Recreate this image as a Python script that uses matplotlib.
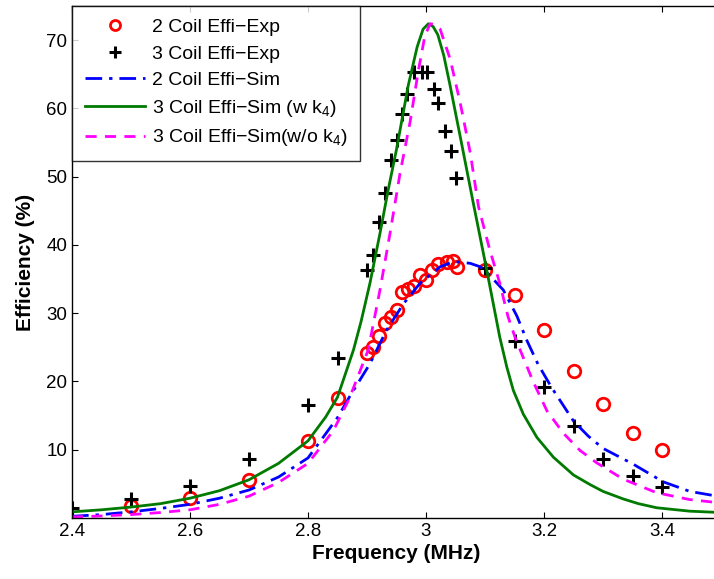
import matplotlib
matplotlib.use("Agg")
import matplotlib.pyplot as plt

# ---- data ----
exp2_f = [2.5, 2.6, 2.7, 2.8, 2.85, 2.90, 2.91, 2.92, 2.93, 2.94, 2.95, 2.96, 2.97, 2.98,
          2.99, 3.00, 3.01, 3.02, 3.035, 3.045, 3.052, 3.10, 3.15, 3.20, 3.25, 3.30, 3.35, 3.40]
exp2_e = [1.8, 2.9, 5.6, 11.3, 17.6, 24.1, 25.0, 26.6, 28.5, 29.4, 30.4, 33.1, 33.5, 34.0,
          35.6, 34.8, 36.4, 37.2, 37.5, 37.7, 36.7, 36.4, 32.7, 27.6, 21.5, 16.7, 12.5, 9.9]

exp3_f = [2.4, 2.5, 2.6, 2.7, 2.8, 2.85, 2.90, 2.91, 2.92, 2.93, 2.94, 2.95, 2.96, 2.968,
          2.98, 2.993, 3.001, 3.014, 3.021, 3.032, 3.042, 3.051, 3.10, 3.15, 3.20, 3.25,
          3.30, 3.35, 3.40]
exp3_e = [1.5, 2.8, 4.7, 8.7, 16.6, 23.5, 36.3, 38.5, 43.4, 47.6, 52.4, 55.3, 59.2, 62.1,
          65.4, 65.4, 65.4, 62.9, 60.8, 56.7, 53.8, 49.8, 36.6, 25.9, 19.2, 13.5,
          8.6, 6.2, 4.5]

sim2_f = [2.40, 2.45, 2.50, 2.55, 2.60, 2.65, 2.70, 2.75, 2.80, 2.85, 2.87, 2.905, 2.933,
          2.962, 2.99, 3.024, 3.045, 3.058, 3.075, 3.092, 3.103, 3.131, 3.154, 3.171, 3.19,
          3.213, 3.25, 3.275, 3.30, 3.351, 3.402, 3.447, 3.50]
sim2_e = [0.25, 0.5, 0.9, 1.4, 2.0, 2.9, 4.1, 6.0, 8.8, 14.7, 17.7, 22.6, 27.5,
          31.4, 34.4, 36.8, 37.5, 37.5, 37.3, 36.8, 36.0, 33.4, 29.6, 26.0, 22.5,
          19.1, 14.2, 12.0, 10.2, 7.9, 5.3, 3.9, 3.1]

sim3w_f = [2.40, 2.45, 2.50, 2.55, 2.60, 2.65, 2.70, 2.75, 2.80, 2.83, 2.85, 2.877, 2.89,
           2.905, 2.922, 2.936, 2.95, 2.97, 2.985, 2.995, 3.004, 3.012, 3.02, 3.03, 3.04,
           3.06, 3.08, 3.103, 3.114, 3.125, 3.137, 3.148, 3.165, 3.188, 3.216, 3.25, 3.278,
           3.30, 3.334, 3.36, 3.391, 3.447, 3.50]
sim3w_e = [0.9, 1.2, 1.6, 2.1, 2.9, 4.0, 5.6, 8.0, 11.3, 14.8, 17.7, 24.6, 28.8,
           34.4, 41.7, 48.1, 54.0, 63.4, 69.0, 71.6, 72.4, 72.0, 70.8, 67.8, 63.7,
           55.0, 46.2, 36.3, 31.4, 26.5, 22.1, 18.7, 15.2, 11.8, 8.9, 6.3, 4.9,
           3.9, 2.8, 2.1, 1.5, 1.0, 0.8]

sim3wo_f = [2.40, 2.45, 2.50, 2.55, 2.60, 2.65, 2.70, 2.75, 2.80, 2.843, 2.87, 2.902,
            2.922, 2.939, 2.956, 2.973, 2.987, 2.998, 3.007, 3.015, 3.024, 3.041, 3.058,
            3.075, 3.089, 3.108, 3.125, 3.139, 3.152, 3.182, 3.205, 3.233, 3.261, 3.289,
            3.334, 3.391, 3.447, 3.50]
sim3wo_e = [0.15, 0.3, 0.5, 0.8, 1.2, 2.0, 3.2, 5.2, 8.0, 12.8, 17.5, 24.6,
            33.4, 41.7, 50.5, 58.0, 65.5, 70.6, 72.4, 72.3, 71.6, 67.2, 60.8,
            53.5, 45.6, 39.3, 34.4, 29.5, 26.2, 19.9, 15.7, 12.4, 9.9, 8.1,
            5.7, 3.7, 2.7, 2.2]

xticks = [2.4, 2.6, 2.8, 3.0, 3.2, 3.4]
xticklabels = ["2.4", "2.6", "2.8", "3", "3.2", "3.4"]
yticks = [10, 20, 30, 40, 50, 60, 70]

labels = ["2 Coil Effi\u2212Exp", "3 Coil Effi\u2212Exp", "2 Coil Effi\u2212Sim",
          "3 Coil Effi\u2212Sim (w k$_4$)", "3 Coil Effi\u2212Sim(w/o k$_4$)"]

plt.rcParams['font.family'] = ['Liberation Sans', 'DejaVu Sans']
plt.rcParams['mathtext.fontset'] = 'custom'
plt.rcParams['mathtext.rm'] = 'Liberation Sans'
plt.rcParams['mathtext.it'] = 'Liberation Sans'

fig = plt.figure(figsize=(7.14, 5.79), dpi=100)
ax = fig.add_axes([72/714, 61/579, (721-72)/714, (518-6)/579])

ax.plot(exp2_f, exp2_e, linestyle='none', marker='o', markersize=9, markerfacecolor='none',
        markeredgecolor='red', markeredgewidth=2, label=labels[0])
ax.plot(exp3_f, exp3_e, linestyle='none', marker='+', markersize=10, color='black',
        markeredgewidth=2.2, label=labels[1])
ax.plot(sim2_f, sim2_e, color='#0000ff', linestyle=(0, (6, 2.5, 1.2, 2.5)), linewidth=2,
        label=labels[2])
ax.plot(sim3w_f, sim3w_e, color='#007a00', linestyle='-', linewidth=2, label=labels[3])
ax.plot(sim3wo_f, sim3wo_e, color='#ff00ff', linestyle=(0, (4, 3)), linewidth=2,
        label=labels[4])

ax.set_xlim(2.4, 3.5)
ax.set_ylim(0, 75)
ax.set_xticks(xticks)
ax.set_xticklabels(xticklabels)
ax.set_yticks(yticks)
ax.tick_params(direction='in', top=True, right=True, labelsize=13.5, length=4)
ax.set_xlabel("Frequency (MHz)", fontsize=15, fontweight='bold', labelpad=3)
ax.set_ylabel("Efficiency (%)", fontsize=15, fontweight='bold', labelpad=8)
for s in ax.spines.values():
    s.set_linewidth(1.0)

leg = ax.legend(loc='upper left', fontsize=14, frameon=True, fancybox=False,
                edgecolor='black', handlelength=3.1, handletextpad=0.35,
                borderaxespad=0.0, labelspacing=0.45, borderpad=0.65, markerscale=0.8)
leg.get_frame().set_linewidth(1.0)

fig.savefig("out.png", dpi=100)
